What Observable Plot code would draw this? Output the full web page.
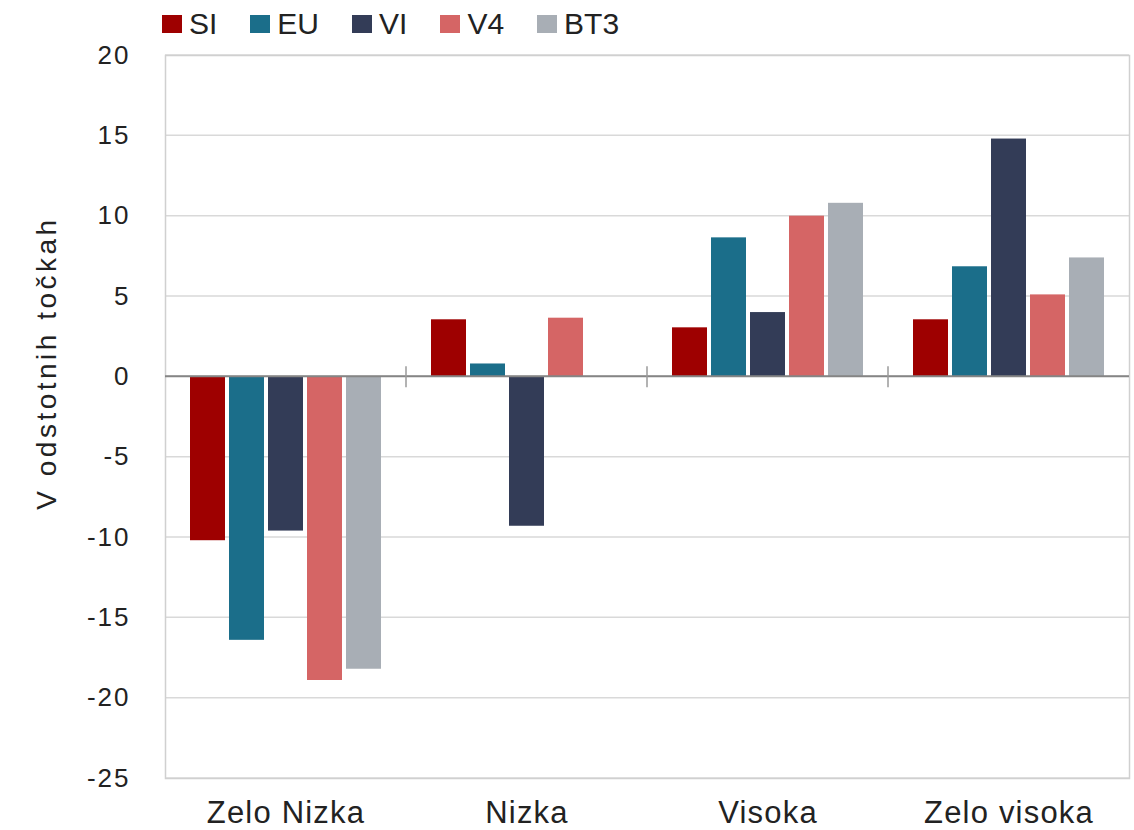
<!DOCTYPE html>
<html><head><meta charset="utf-8">
<script src="https://cdn.jsdelivr.net/npm/d3@7"></script>
<script src="https://cdn.jsdelivr.net/npm/@observablehq/plot@0.6"></script>
<style>
body{margin:0;background:#fff;font-family:"Liberation Sans",Arial,sans-serif;}
#legend{height:40px;box-sizing:border-box;padding-top:8px;padding-left:162px;display:flex;align-items:center;font-size:30px;color:#222;}
#legend .item{display:flex;align-items:center;margin-right:33px;}
#legend .sw{width:20px;height:18px;margin-right:7px;}
#chart svg{overflow:visible;}
#chart svg [aria-label="y-axis tick label"] text{letter-spacing:2px;}
#chart svg [aria-label="fx-axis tick label"] text{letter-spacing:1.2px;}
#chart svg .ylab text{letter-spacing:3.5px;}
</style></head>
<body>
<div id="legend"></div>
<div id="chart"></div>
<script>
const categories = ["Zelo Nizka", "Nizka", "Visoka", "Zelo visoka"];
const series = ["SI", "EU", "VI", "V4", "BT3"];
const colors = ["#9e0000", "#1b6e8a", "#333c57", "#d56565", "#a8aeb5"];
const SI  = [-10.2, 3.55, 3.05, 3.55];
const EU  = [-16.4, 0.8, 8.65, 6.85];
const VI  = [-9.6, -9.3, 4.0, 14.8];
const V4  = [-18.9, 3.65, 10.0, 5.1];
const BT3 = [-18.2, 0, 10.8, 7.4];
const yTicks = [20, 15, 10, 5, 0, -5, -10, -15, -20, -25];
const yLabel = "V odstotnih točkah";

const valuesBySeries = {SI, EU, VI, V4, BT3};
const data = [];
categories.forEach((c, i) => series.forEach(s => data.push({category: c, series: s, value: valuesBySeries[s][i]})));

// legend
const legend = document.getElementById("legend");
series.forEach((s, i) => {
  const it = document.createElement("div"); it.className = "item";
  const sw = document.createElement("div"); sw.className = "sw"; sw.style.background = colors[i];
  const tx = document.createElement("span"); tx.textContent = s;
  it.append(sw, tx); legend.append(it);
});

// background grid (drawn once across all facets)
const gridRender = (index, scales, values, dims, context, next) => {
  const g = d3.create("svg:g");
  const y = scales.y;
  const x1 = dims.marginLeft, x2 = dims.width - dims.marginRight;
  for (const t of yTicks) {
    g.append("line").attr("x1", x1).attr("x2", x2).attr("y1", y(t)).attr("y2", y(t))
      .attr("stroke", "#d9d9d9").attr("stroke-width", 1.5);
  }
  const f = next(index, scales, values, dims, context);
  if (f) g.append(() => f);
  return g.node();
};

// zero line and category boundary ticks
const zeroRender = (index, scales, values, dims) => {
  const g = d3.create("svg:g");
  const y = scales.y;
  const x1 = dims.marginLeft, x2 = dims.width - dims.marginRight;
  g.append("line").attr("x1", x1).attr("x2", x2).attr("y1", y(0)).attr("y2", y(0))
    .attr("stroke", "#858585").attr("stroke-width", 2);
  const n = categories.length;
  for (let i = 1; i < n; i++) {
    let xb = scales.fx ? scales.fx(categories[i]) : NaN;
    if (!Number.isFinite(xb)) xb = x1 + i * (x2 - x1) / n;
    g.append("line").attr("x1", xb).attr("x2", xb)
      .attr("y1", y(0) - 10).attr("y2", y(0) + 11)
      .attr("stroke", "#9a9a9a").attr("stroke-width", 1.5);
  }
  return g.node();
};

const chart = Plot.plot({
  width: 1134,
  height: 790,
  marginTop: 15,
  marginBottom: 52,
  marginLeft: 163,
  marginRight: 4,
  style: {fontFamily: "'Liberation Sans', Arial, sans-serif", color: "#222", background: "#fff"},
  fx: {domain: categories, paddingInner: 0, paddingOuter: 0, label: null},
  x: {domain: series, paddingInner: 0.11, paddingOuter: 0.57, axis: null},
  y: {domain: [-25, 20], label: null},
  color: {domain: series, range: colors},
  marks: [
    Plot.frame({facet: "super", stroke: "#d0d0d0", strokeWidth: 1.5, render: gridRender}),
    Plot.barY(data, {fx: "category", x: "series", y: "value", fill: "series"}),
    Plot.frame({facet: "super", stroke: "none", render: zeroRender}),
    Plot.axisY(yTicks, {tickSize: 0, tickPadding: 35, fontSize: 26, tickFormat: d => String(d), label: null}),
    Plot.text([yLabel], {
      facet: "super", text: d => d, frameAnchor: "left", textAnchor: "middle", rotate: -90,
      dx: -118, dy: -54, fontSize: 28, fill: "#222", className: "ylab"
    }),
    Plot.axisFx({anchor: "bottom", tickSize: 0, tickPadding: 22, fontSize: 31, label: null})
  ]
});
document.getElementById("chart").append(chart);
</script>
</body></html>
